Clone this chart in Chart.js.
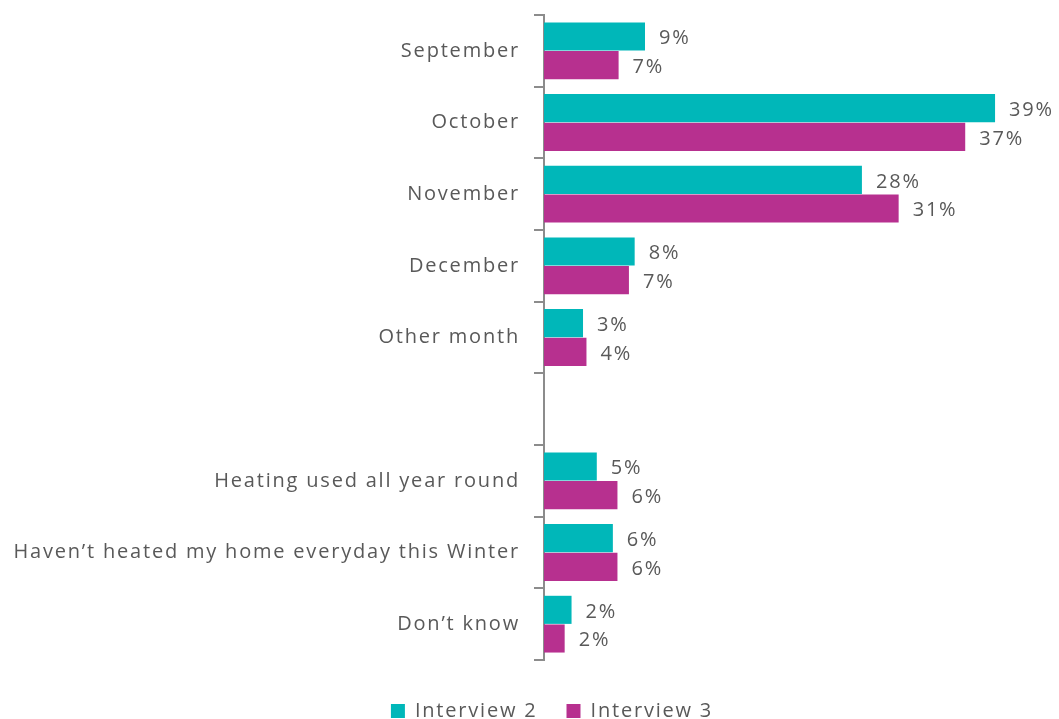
<!DOCTYPE html>
<html>
<head>
<meta charset="utf-8">
<script src="https://cdn.jsdelivr.net/npm/chart.js@4.4.1/dist/chart.umd.min.js"></script>
<style>
  html, body { margin: 0; padding: 0; background: #fff; overflow: hidden; }
  #wrap { width: 1059px; height: 731px; }
</style>
</head>
<body>
<div id="wrap"><canvas id="chart"></canvas></div>
<script>
const categories = [
  'September',
  'October',
  'November',
  'December',
  'Other month',
  '',
  'Heating used all year round',
  'Haven’t heated my home everyday this Winter',
  'Don’t know',
];
const interview2 = [8.8, 39.3, 27.7, 7.9, 3.4, null, 4.6, 6.0, 2.4];
const interview3 = [6.5, 36.7, 30.9, 7.4, 3.7, null, 6.4, 6.4, 1.8];
const labels2 = ['9%', '39%', '28%', '8%', '3%', '', '5%', '6%', '2%'];
const labels3 = ['7%', '37%', '31%', '7%', '4%', '', '6%', '6%', '2%'];

const TEXT = '#595959';
const AXIS = '#8c8c8c';
const FONT = '"Open Sans", sans-serif';
const SPACING = '1.8px';

// the source text is letter-spaced; canvas state resets on resize, so set it each pass
const spacing = {
  id: 'spacing',
  beforeLayout(chart) { chart.ctx.letterSpacing = SPACING; },
  beforeDraw(chart) { chart.ctx.letterSpacing = SPACING; },
  // legend sits a little right of the canvas centre in the source
  afterLayout(chart) {
    chart.legend.left += 55;
  },
};

// value labels to the right of each bar
const barLabels = {
  id: 'barLabels',
  afterDatasetsDraw(chart) {
    const ctx = chart.ctx;
    const texts = [labels2, labels3];
    ctx.save();
    ctx.letterSpacing = SPACING;
    ctx.font = `20px ${FONT}`;
    ctx.fillStyle = TEXT;
    ctx.textBaseline = 'middle';
    ctx.textAlign = 'left';
    chart.data.datasets.forEach((ds, i) => {
      chart.getDatasetMeta(i).data.forEach((bar, j) => {
        if (ds.data[j] == null) return;
        ctx.fillText(texts[i][j], bar.x + 14, bar.y + 2);
      });
    });
    ctx.restore();
  },
};

new Chart(document.getElementById('chart'), {
  type: 'bar',
  data: {
    labels: categories,
    datasets: [
      { label: 'Interview 2', data: interview2, backgroundColor: '#00b7b9' },
      { label: 'Interview 3', data: interview3, backgroundColor: '#b7308f' },
    ],
  },
  options: {
    indexAxis: 'y',
    responsive: true,
    maintainAspectRatio: false,
    animation: false,
    layout: { padding: { top: 15, right: 10, left: 0, bottom: 0 } },
    datasets: { bar: { categoryPercentage: 0.8, barPercentage: 0.98 } },
    plugins: {
      legend: {
        position: 'bottom',
        labels: { color: TEXT, font: { family: FONT, size: 20 }, boxWidth: 14, boxHeight: 14, padding: 29 },
      },
      tooltip: { enabled: false },
    },
    scales: {
      x: {
        min: 0,
        max: 44,
        grid: { display: false },
        border: { display: false },
        ticks: { display: false },
        afterFit(scale) { scale.height = 12; },
      },
      y: {
        grid: { drawOnChartArea: false, drawTicks: true, tickLength: 10, color: AXIS, lineWidth: 2, offset: true },
        border: { color: AXIS, width: 2 },
        ticks: { color: TEXT, font: { family: FONT, size: 20 }, padding: 14, autoSkip: false },
        afterFit(scale) {
          scale.width = 544;
          scale.paddingTop = 0;
          scale.paddingBottom = 0;
        },
      },
    },
  },
  plugins: [spacing, barLabels],
});
</script>
</body>
</html>
